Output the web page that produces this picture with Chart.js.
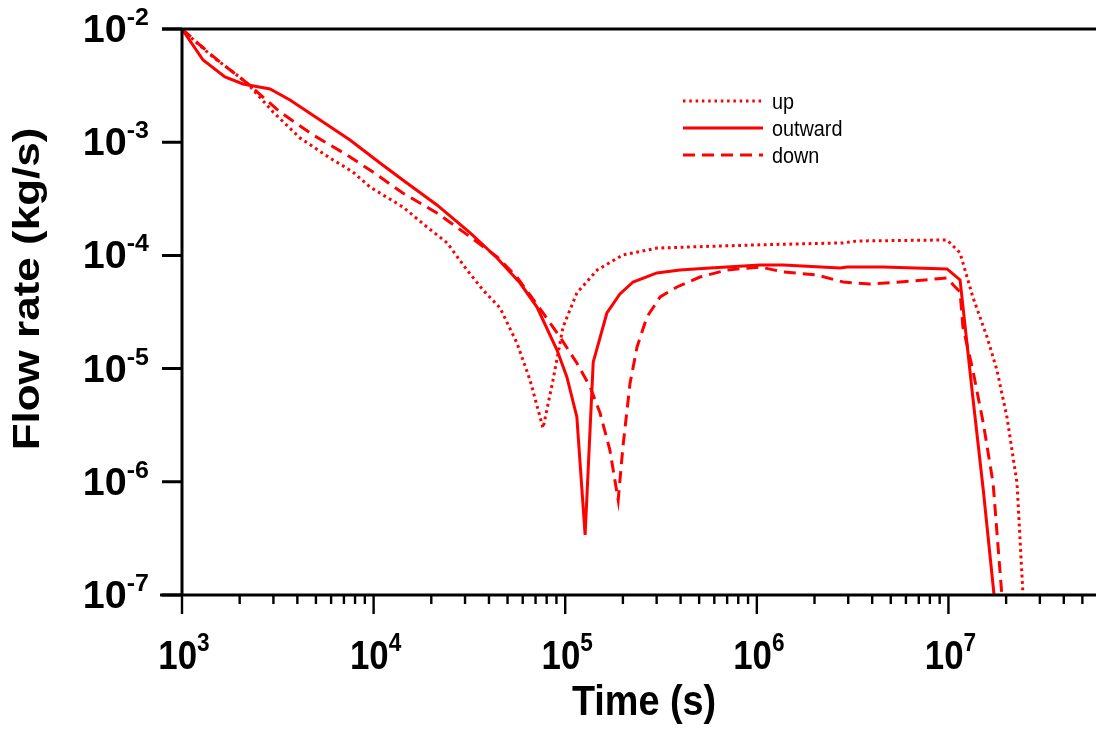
<!DOCTYPE html>
<html>
<head>
<meta charset="utf-8">
<script src="https://cdn.jsdelivr.net/npm/chart.js@4"></script>
<style>
  body { margin: 0; background: #fff; }
</style>
</head>
<body>
<canvas id="flowChart" width="1096" height="730"></canvas>
<script>
// values (time in s, flow rate in kg/s)
const upTime = [1e3, 1198, 1451, 1846, 2184, 2985, 4130, 5921, 7806, 9577, 1.42e4, 1.90e4, 2.42e4, 3.07e4, 3.72e4, 4.57e4, 5.60e4, 6.55e4, 7.66e4, 8.64e4, 9.74e4, 1.15e5, 1.47e5, 2.00e5, 3.01e5, 4.65e5, 1.04e6, 2.82e6, 3.33e6, 9.83e6, 1.15e7, 1.34e7, 1.59e7, 1.79e7, 2.02e7, 2.28e7, 2.45e7];
const upFlow = [1e-2, 7.52e-3, 5.66e-3, 4.17e-3, 3.33e-3, 1.85e-3, 1.09e-3, 7.25e-4, 5.45e-4, 4.02e-4, 2.68e-4, 1.78e-4, 1.29e-4, 7.43e-5, 4.95e-5, 3.43e-5, 1.68e-5, 7.93e-6, 2.98e-6, 7.93e-6, 2.33e-5, 4.66e-5, 7.43e-5, 1.01e-4, 1.16e-4, 1.19e-4, 1.24e-4, 1.29e-4, 1.34e-4, 1.37e-4, 1.05e-4, 4.30e-5, 1.90e-5, 9.73e-6, 3.73e-6, 9.75e-7, 1e-7];

const outwardTime = [1e3, 1288, 1676, 2082, 2880, 3662, 5253, 7530, 1.08e4, 1.42e4, 2.14e4, 3.19e4, 4.41e4, 5.81e4, 7.12e4, 9.06e4, 1.02e5, 1.15e5, 1.27e5, 1.40e5, 1.65e5, 1.93e5, 2.26e5, 3.01e5, 3.97e5, 5.70e5, 1.04e6, 1.37e6, 2.72e6, 2.96e6, 4.56e6, 9.83e6, 1.15e7, 1.34e7, 1.52e7, 1.73e7];
const outwardFlow = [1e-2, 5.32e-3, 3.77e-3, 3.27e-3, 2.95e-3, 2.36e-3, 1.57e-3, 1.045e-3, 6.55e-4, 4.63e-4, 2.79e-4, 1.58e-4, 9.48e-5, 5.70e-5, 3.50e-5, 1.46e-5, 8.43e-6, 3.74e-6, 3.39e-7, 1.14e-5, 3.10e-5, 4.56e-5, 5.82e-5, 7.00e-5, 7.43e-5, 7.74e-5, 8.23e-5, 8.23e-5, 7.74e-5, 7.90e-5, 7.90e-5, 7.59e-5, 6.07e-5, 5.61e-6, 8.47e-7, 1e-7];

const downTime = [1e3, 1241, 1579, 2184, 3247, 4828, 7262, 9929, 1.42e4, 2.14e4, 3.19e4, 4.41e4, 5.60e4, 7.66e4, 9.39e4, 1.15e5, 1.35e5, 1.52e5, 1.71e5, 1.89e5, 2.00e5, 2.18e5, 2.37e5, 2.67e5, 3.13e5, 3.83e5, 5.05e5, 6.99e5, 1.04e6, 1.37e6, 2.06e6, 2.82e6, 3.90e6, 5.59e6, 9.83e6, 1.06e7, 1.15e7, 1.19e7, 1.34e7, 1.52e7, 1.71e7, 1.90e7];
const downFlow = [1e-2, 7.22e-3, 5.11e-3, 3.33e-3, 1.85e-3, 1.16e-3, 7.71e-4, 5.45e-4, 3.56e-4, 2.37e-4, 1.46e-4, 9.68e-5, 6.44e-5, 3.10e-5, 1.90e-5, 1.12e-5, 6.87e-6, 4.05e-6, 1.91e-6, 6.90e-7, 2.03e-6, 7.46e-6, 1.55e-5, 2.86e-5, 4.30e-5, 5.26e-5, 6.44e-5, 7.43e-5, 7.90e-5, 7.14e-5, 6.71e-5, 5.82e-5, 5.59e-5, 5.82e-5, 6.31e-5, 5.48e-5, 4.75e-5, 2.33e-5, 9.73e-6, 3.30e-6, 9.75e-7, 1e-7];

const seriesNames = ['up', 'outward', 'down'];
const xTickExponents = ['3', '4', '5', '6', '7'];
const yTickExponents = ['-2', '-3', '-4', '-5', '-6', '-7'];

function points(xs, ys) {
    return xs.map((x, i) => ({ x: x, y: ys[i] }));
}

// superscript label like 10^-3, drawn at (x, baseline)
function drawPower(ctx, exp, x, y, align, bigPx, smallPx, squeeze) {
    ctx.save();
    ctx.translate(x, y);
    ctx.scale(squeeze, 1);
    ctx.font = 'bold ' + bigPx + 'px "Liberation Sans", Arial, sans-serif';
    const w1 = ctx.measureText('10').width;
    ctx.font = 'bold ' + smallPx + 'px "Liberation Sans", Arial, sans-serif';
    const w2 = ctx.measureText(exp).width;
    let start = 0;
    if (align === 'right') start = -(w1 + w2);
    if (align === 'center') start = -(w1 + w2) / 2;
    ctx.textAlign = 'left';
    ctx.textBaseline = 'alphabetic';
    ctx.fillStyle = '#000';
    ctx.font = 'bold ' + bigPx + 'px "Liberation Sans", Arial, sans-serif';
    ctx.fillText('10', start, 0);
    ctx.font = 'bold ' + smallPx + 'px "Liberation Sans", Arial, sans-serif';
    ctx.fillText(exp, start + w1, -bigPx * 0.45);
    ctx.restore();
}

const axesPlugin = {
    id: 'axesPlugin',
    afterDatasetsDraw(chart) {
        const ctx = chart.ctx;
        const xs = chart.scales.x;
        const ys = chart.scales.y;
        const a = chart.chartArea;
        ctx.save();
        ctx.strokeStyle = '#000';
        ctx.lineWidth = 3;
        ctx.beginPath();
        ctx.moveTo(a.left, a.top);
        ctx.lineTo(a.left, a.bottom);
        ctx.moveTo(162, a.top);
        ctx.lineTo(a.right, a.top);
        ctx.moveTo(160, a.bottom);
        ctx.lineTo(a.right, a.bottom);
        ctx.stroke();

        // y ticks + labels
        ctx.beginPath();
        yTickExponents.forEach(e => {
            const py = ys.getPixelForValue(Math.pow(10, Number(e)));
            ctx.moveTo(162, py);
            ctx.lineTo(a.left, py);
        });
        ctx.stroke();
        yTickExponents.forEach(e => {
            const py = ys.getPixelForValue(Math.pow(10, Number(e)));
            drawPower(ctx, e, 149, py + 13, 'right', 38, 24, 1.04);
        });

        // x ticks, major and minor
        ctx.lineWidth = 2.4;
        ctx.beginPath();
        xTickExponents.forEach(e => {
            const dec = Math.pow(10, Number(e));
            const px = xs.getPixelForValue(dec);
            ctx.moveTo(px, a.bottom);
            ctx.lineTo(px, a.bottom + 19);
            for (let k = 2; k <= 9; k++) {
                const v = k * dec;
                if (v > xs.max) break;
                const mx = xs.getPixelForValue(v);
                ctx.moveTo(mx, a.bottom);
                ctx.lineTo(mx, a.bottom + 9);
            }
        });
        ctx.stroke();
        xTickExponents.forEach(e => {
            const px = xs.getPixelForValue(Math.pow(10, Number(e)));
            drawPower(ctx, e, px + 2, 669, 'center', 40, 26, 0.87);
        });

        // axis titles
        ctx.fillStyle = '#000';
        ctx.textAlign = 'center';
        ctx.textBaseline = 'alphabetic';
        ctx.save();
        ctx.translate(644, 715);
        ctx.scale(0.9, 1);
        ctx.font = 'bold 42px "Liberation Sans", Arial, sans-serif';
        ctx.fillText('Time (s)', 0, 0);
        ctx.restore();
        ctx.save();
        ctx.translate(39, 289);
        ctx.rotate(-Math.PI / 2);
        ctx.scale(1, 0.82);
        ctx.font = 'bold 44px "Liberation Sans", Arial, sans-serif';
        ctx.fillText('Flow rate (kg/s)', 0, 0);
        ctx.restore();

        // legend
        const dashes = [[2.5, 3.8], [], [12, 7]];
        ctx.strokeStyle = '#ff0000';
        ctx.lineWidth = 2.8;
        ctx.textAlign = 'left';
        seriesNames.forEach((name, i) => {
            const ly = 101 + i * 27;
            ctx.setLineDash(dashes[i]);
            ctx.beginPath();
            ctx.moveTo(683, ly);
            ctx.lineTo(763, ly);
            ctx.stroke();
            ctx.save();
            ctx.translate(772, ly + 8);
            ctx.scale(0.9, 1);
            ctx.font = '22px "Liberation Sans", Arial, sans-serif';
            ctx.fillText(name, 0, 0);
            ctx.restore();
        });
        ctx.restore();
    }
};

new Chart(document.getElementById('flowChart').getContext('2d'), {
    type: 'line',
    data: {
        datasets: [
            { label: seriesNames[0], data: points(upTime, upFlow), borderColor: '#ff0000', borderWidth: 3, borderDash: [2.8, 3.6], pointRadius: 0, tension: 0 },
            { label: seriesNames[1], data: points(outwardTime, outwardFlow), borderColor: '#ff0000', borderWidth: 3, pointRadius: 0, tension: 0 },
            { label: seriesNames[2], data: points(downTime, downFlow), borderColor: '#ff0000', borderWidth: 3, borderDash: [12, 7], pointRadius: 0, tension: 0 }
        ]
    },
    options: {
        responsive: false,
        devicePixelRatio: 1,
        animation: false,
        layout: { padding: { left: 182, top: 29, right: 0, bottom: 135 } },
        scales: {
            x: { type: 'logarithmic', min: 1000, max: 5.89e7, display: false },
            y: { type: 'logarithmic', min: 1e-7, max: 1e-2, display: false }
        },
        plugins: {
            legend: { display: false },
            tooltip: { enabled: false }
        }
    },
    plugins: [axesPlugin]
});
</script>
</body>
</html>
